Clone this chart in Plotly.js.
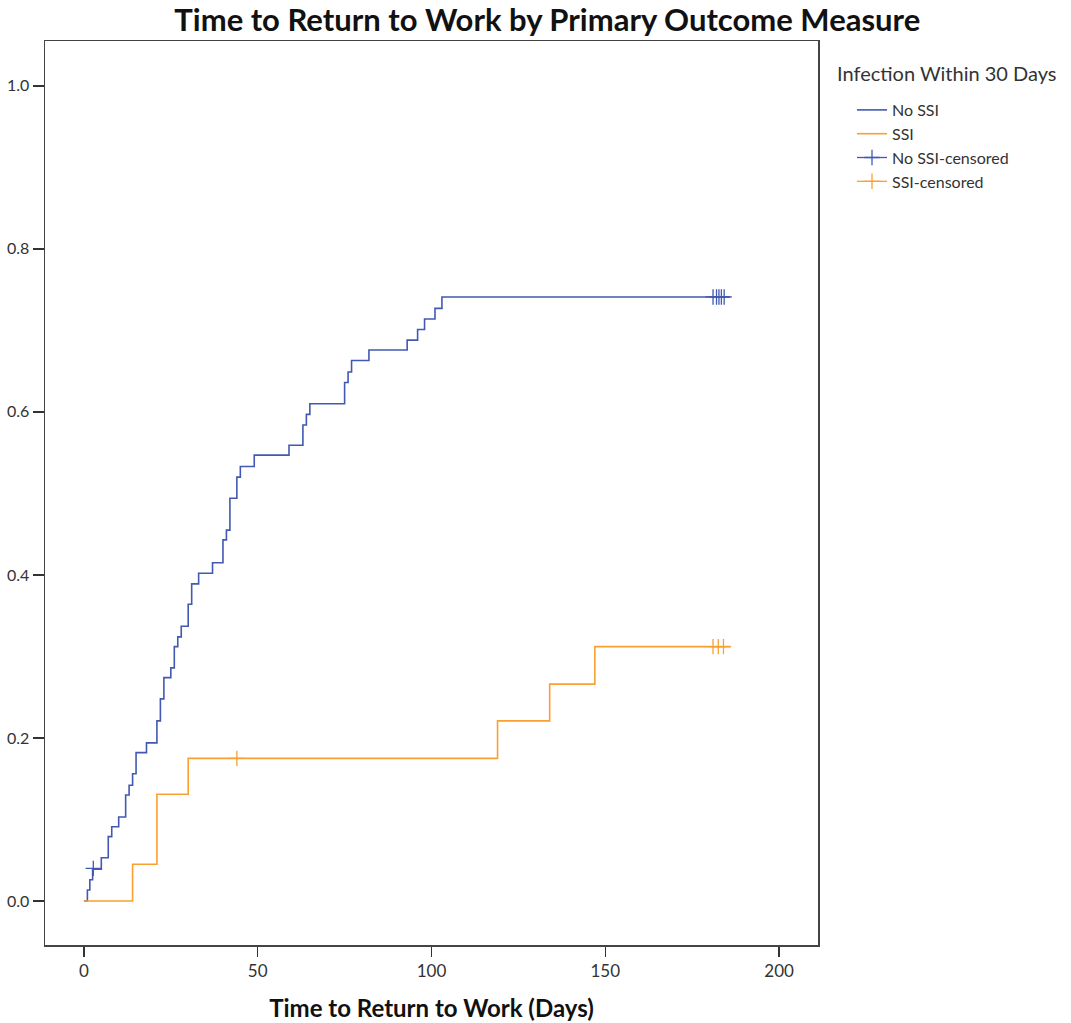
<!DOCTYPE html>
<html>
<head>
<meta charset="utf-8">
<script src="https://cdn.plot.ly/plotly-3.0.1.min.js"></script>
<style>html,body{margin:0;padding:0;background:#fff;}#chart{width:1071px;height:1023px;}</style>
</head>
<body>
<div id="chart"></div>
<script>
// ---- Data ----
const noSsiDays = [0, 1, 1.7, 2.5, 5, 7, 8, 10, 12, 13, 14, 15, 18, 21, 22, 23, 25, 26, 27, 28, 30, 31, 33, 37, 40, 41, 42, 44, 45, 49, 59, 63, 64, 65, 75, 76, 77, 82, 93, 96, 98, 101, 103, 186];
const noSsiCum  = [0, 0.0135, 0.026, 0.039, 0.053, 0.079, 0.091, 0.103, 0.130, 0.142, 0.156, 0.182, 0.194, 0.221, 0.248, 0.274, 0.286, 0.312, 0.324, 0.337, 0.364, 0.389, 0.402, 0.415, 0.443, 0.455, 0.494, 0.520, 0.533, 0.547, 0.559, 0.584, 0.597, 0.610, 0.636, 0.649, 0.663, 0.676, 0.688, 0.701, 0.714, 0.727, 0.741, 0.741];

const ssiDays = [0, 14, 21, 30, 119, 134, 147, 186];
const ssiCum  = [0, 0.045, 0.131, 0.175, 0.221, 0.266, 0.312, 0.312];

const noSsiCensDays = [2.7, 181, 182, 182.7, 183.4, 184.2];
const noSsiCensCum  = [0.040, 0.741, 0.741, 0.741, 0.741, 0.741];

const ssiCensDays = [44, 181, 182.5, 184];
const ssiCensCum  = [0.175, 0.312, 0.312, 0.312];

const seriesNames = ["No SSI", "SSI", "No SSI-censored", "SSI-censored"];
const legendTitle = "Infection Within 30 Days";
const xTicks = [0, 50, 100, 150, 200];
const yTicks = [0.0, 0.2, 0.4, 0.6, 0.8, 1.0];

const BLUE = "#4159b2";
const ORANGE = "#f9a030";
const FONT = "Lato, 'Open Sans', sans-serif";

// separate censored points with gaps so no connecting line is drawn,
// but the legend still shows a "+" (line + tick) symbol
function gapped(arr) {
  const out = [];
  arr.forEach((v, i) => { if (i) out.push(null); out.push(v); });
  return out;
}

const traces = [
  {x: noSsiDays, y: noSsiCum, name: seriesNames[0], type: "scatter", mode: "lines",
   line: {shape: "hv", color: BLUE, width: 1.6}},
  {x: ssiDays, y: ssiCum, name: seriesNames[1], type: "scatter", mode: "lines",
   line: {shape: "hv", color: ORANGE, width: 1.6}},
  {x: gapped(noSsiCensDays), y: gapped(noSsiCensCum), name: seriesNames[2], type: "scatter",
   mode: "lines+markers", connectgaps: false, line: {color: BLUE, width: 1.3},
   marker: {symbol: "cross-thin-open", size: 11, color: BLUE, line: {color: BLUE, width: 1.3}}},
  {x: gapped(ssiCensDays), y: gapped(ssiCensCum), name: seriesNames[3], type: "scatter",
   mode: "lines+markers", connectgaps: false, line: {color: ORANGE, width: 1.3},
   marker: {symbol: "cross-thin-open", size: 11, color: ORANGE, line: {color: ORANGE, width: 1.3}}}
];

const layout = {
  width: 1071, height: 1023,
  margin: {l: 45, r: 253, t: 41, b: 78},
  paper_bgcolor: "#fff", plot_bgcolor: "#fff",
  font: {family: FONT, color: "#333", size: 17},
  title: {text: "<b>Time to Return to Work by Primary Outcome Measure</b>",
          font: {family: FONT, size: 31, color: "#111"},
          xref: "container", x: 0.511, xanchor: "center",
          yref: "container", y: 0.98, yanchor: "middle"},
  xaxis: {range: [-11.2, 211.2], tickvals: xTicks, ticks: "outside", ticklen: 10, tickwidth: 1.5,
          tickcolor: "#333", showline: true, linecolor: "#444", linewidth: 1.5, mirror: true,
          showgrid: false, zeroline: false, tickfont: {size: 17, color: "#333"},
          title: {text: "<b>Time to Return to Work (Days)</b>", font: {size: 24, color: "#111"}, standoff: 20}},
  yaxis: {range: [-0.054, 1.055], tickvals: yTicks, tickformat: ".1f", ticks: "outside", ticklen: 11,
          tickwidth: 1.5, tickcolor: "#333", showline: true, linecolor: "#444", linewidth: 1.5,
          mirror: true, showgrid: false, zeroline: false, tickfont: {size: 16, color: "#333"}},
  legend: {x: (852 - 45) / 773, xanchor: "left", y: (945 - 93) / 904, yanchor: "top",
           font: {size: 16, color: "#333"}, tracegroupgap: 0, itemwidth: 30,
           bgcolor: "rgba(0,0,0,0)"},
  annotations: [{text: legendTitle, xref: "paper", yref: "paper",
                 x: (835 - 45) / 773, xanchor: "left", y: (945 - 73) / 904, yanchor: "middle",
                 showarrow: false, font: {size: 20, color: "#333"}}],
  showlegend: true
};

Plotly.newPlot("chart", traces, layout, {displayModeBar: false, staticPlot: true});
</script>
</body>
</html>
